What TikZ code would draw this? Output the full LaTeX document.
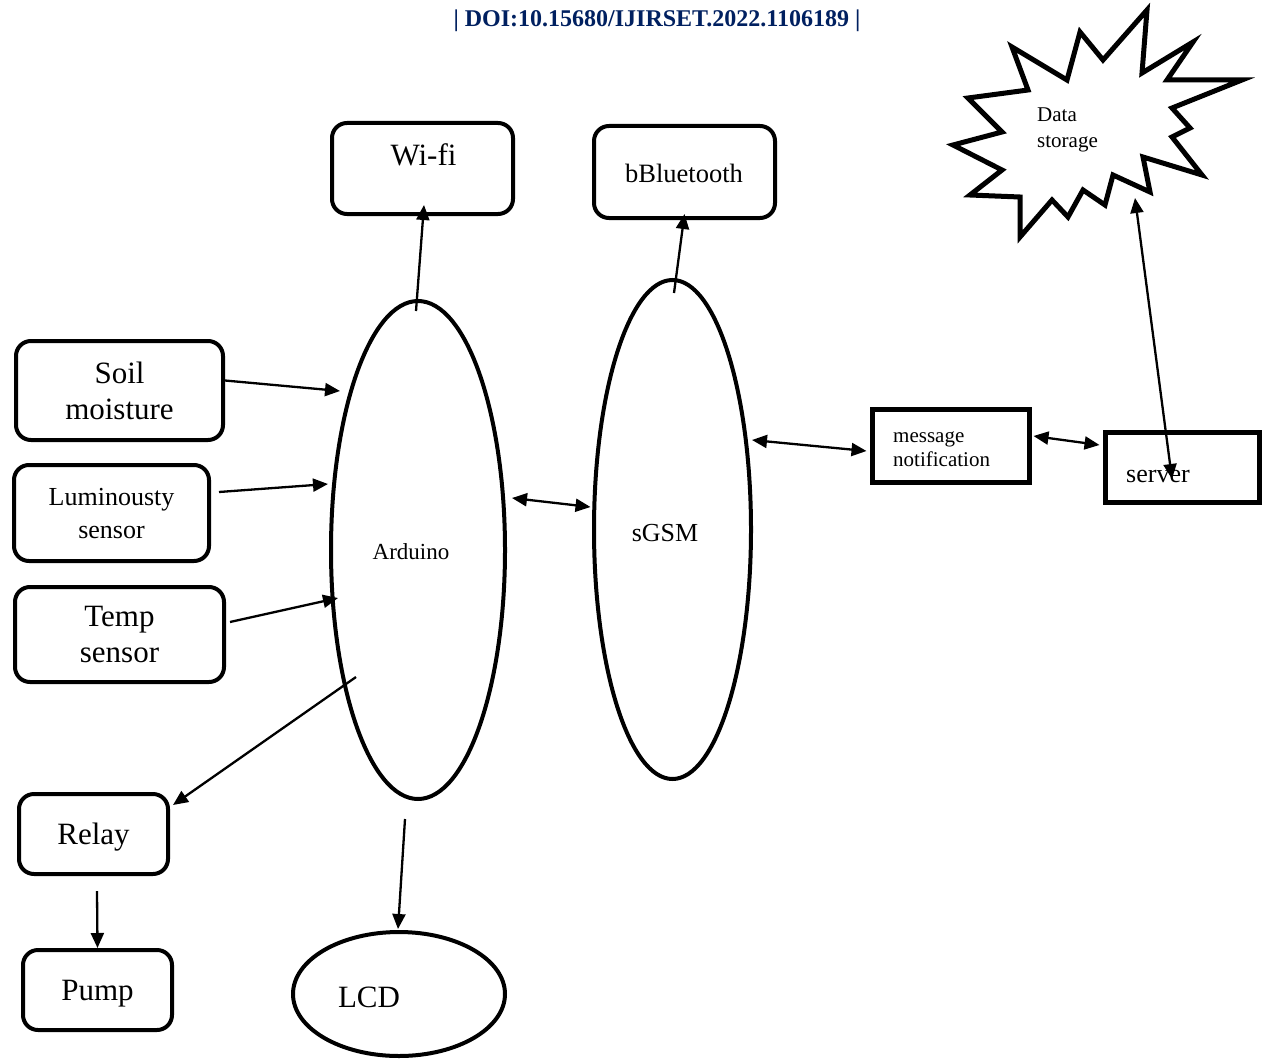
\documentclass[tikz,border=0pt]{standalone}
\usepackage{fontspec}
\setmainfont{Liberation Serif}
\usetikzlibrary{arrows.meta,calc,shapes.geometric}
\definecolor{doiblue}{RGB}{0,32,96}
\begin{document}
\begin{tikzpicture}[x=1pt,y=-1pt,
  rbox/.style={draw,line width=4pt,rounded corners=15pt,inner sep=0pt,align=center,text depth=0pt},
  sbox/.style={draw,line width=5pt,inner sep=0pt},
  oval/.style={draw,ellipse,line width=4pt,inner sep=0pt},
  conn/.style={line width=2.3pt,-{Triangle[length=15pt,width=13pt]}},
  dconn/.style={line width=2.3pt,{Triangle[length=15pt,width=13pt]}-{Triangle[length=15pt,width=13pt]}},
  txt/.style={inner sep=0pt,anchor=base}
]
\useasboundingbox (0,0) rectangle (1263,1062);
\fill[white] (0,0) rectangle (1263,1062);

% header
\node[txt,text=doiblue,font=\bfseries\fontsize{24}{28}\selectfont] (doi) at (657,26.5) {| DOI:10.15680/IJIRSET.2022.1106189 |};

% boxes
\node[rbox,minimum width=181pt,minimum height=91pt] (wifi) at (422.5,168.5) {};
\node[txt,font=\fontsize{31}{36}\selectfont] (wifit) at (423.5,165) {Wi-fi};
\node[rbox,minimum width=181pt,minimum height=92pt] (bt) at (684.5,172) {};
\node[txt,font=\fontsize{26.5}{30}\selectfont] (btt) at (684,182) {bBluetooth};

\node[rbox,minimum width=207pt,minimum height=99pt,font=\fontsize{31}{36}\selectfont] (soil) at (119.5,390.5) {Soil\\moisture};
\node[rbox,minimum width=195pt,minimum height=96pt,font=\fontsize{26}{33}\selectfont] (lum) at (111.5,513) {Luminousty\\sensor};
\node[rbox,minimum width=209pt,minimum height=95pt,font=\fontsize{31}{36}\selectfont] (temp) at (119.5,634.5) {Temp\\sensor};
\node[rbox,minimum width=149pt,minimum height=80pt,font=\fontsize{31}{36}\selectfont] (relay) at (93.5,834) {Relay};
\node[rbox,minimum width=149pt,minimum height=80pt,font=\fontsize{31}{36}\selectfont] (pump) at (97.5,990) {Pump};

% ellipses
\node[oval,minimum width=174pt,minimum height=498pt] (ard) at (418,550) {};
\node[txt,font=\fontsize{23}{26}\selectfont] (ardt) at (411,559) {Arduino};
\node[oval,minimum width=157pt,minimum height=499pt] (gsm) at (672.5,529.5) {};
\node[txt,font=\fontsize{26}{30}\selectfont] (gsmt) at (665,541) {sGSM};
\node[oval,minimum width=212pt,minimum height=124pt] (lcd) at (399,994) {};
\node[txt,font=\fontsize{31}{36}\selectfont] (lcdt) at (369,1007) {LCD};

% message / server
\node[sbox,minimum width=157pt,minimum height=73pt] (msg) at (950.5,445.5) {};
\node[inner sep=0pt,anchor=base west,align=left,font=\fontsize{21}{24}\selectfont] (msgt) at (893,466) {message\\notification};
\node[sbox,minimum width=154pt,minimum height=70pt] (srv) at (1182,467) {};
\node[txt,anchor=base west,font=\fontsize{26}{30}\selectfont] (srvt) at (1126,482) {server};

% data storage star
\draw[line width=5pt,line join=miter,miter limit=10]
 (953,145) -- (1002,132) -- (968,98) -- (1028,90) -- (1012,47) -- (1067,80)
 -- (1080,32) -- (1103,60) -- (1147,10) -- (1142,73) -- (1193,42) -- (1167,80)
 -- (1242,80) -- (1172,108) -- (1190,128) -- (1172,137) -- (1202,175) -- (1143,157)
 -- (1150,192) -- (1113,175) -- (1105,205) -- (1083,190) -- (1068,217) -- (1052,200)
 -- (1020,237) -- (1020,197) -- (970,195) -- (1002,170) -- cycle;
\node[inner sep=0pt,anchor=base west,align=left,font=\fontsize{21}{25}\selectfont] (dst) at (1037,147) {Data\\storage};
\coordinate (starin) at (1135,198);

% connectors
\draw[conn] ($(ard.north)+(-2,12)$) -- ($(wifi.south)+(1.5,-11)$);
\draw[conn] ($(gsm.north)+(1.5,15)$) -- ($(bt.south)+(0,-6)$);
\draw[conn] ($(soil.east)+(0,-10)$) -- ($(ard.center)+(-78,-159)$);
\draw[conn] ($(lum.east)+(8,-21)$) -- ($(ard.center)+(-90,-66)$);
\draw[conn] ($(temp.east)+(4,-12.5)$) -- ($(ard.center)+(-80,48)$);
\draw[conn] ($(ard.center)+(-62,127)$) -- ($(relay.north east)+(3,13)$);
\draw[conn] ($(relay.south)+(3.5,15)$) -- (pump.north);
\draw[conn] ($(ard.south)+(-13,18)$) -- ($(lcd.north)+(-1,-1)$);
\draw[dconn] ($(ard.center)+(94,-52)$) -- ($(gsm.center)+(-82,-22.5)$);
\draw[dconn] ($(gsm.center)+(79.5,-89.5)$) -- ($(msg.west)+(-3,5.5)$);
\draw[dconn] ($(msg.east)+(2,-9.5)$) -- ($(srv.west)+(-3,-22)$);
\draw[dconn] ($(srv.center)+(-10,12)$) -- (starin);
\end{tikzpicture}
\end{document}
